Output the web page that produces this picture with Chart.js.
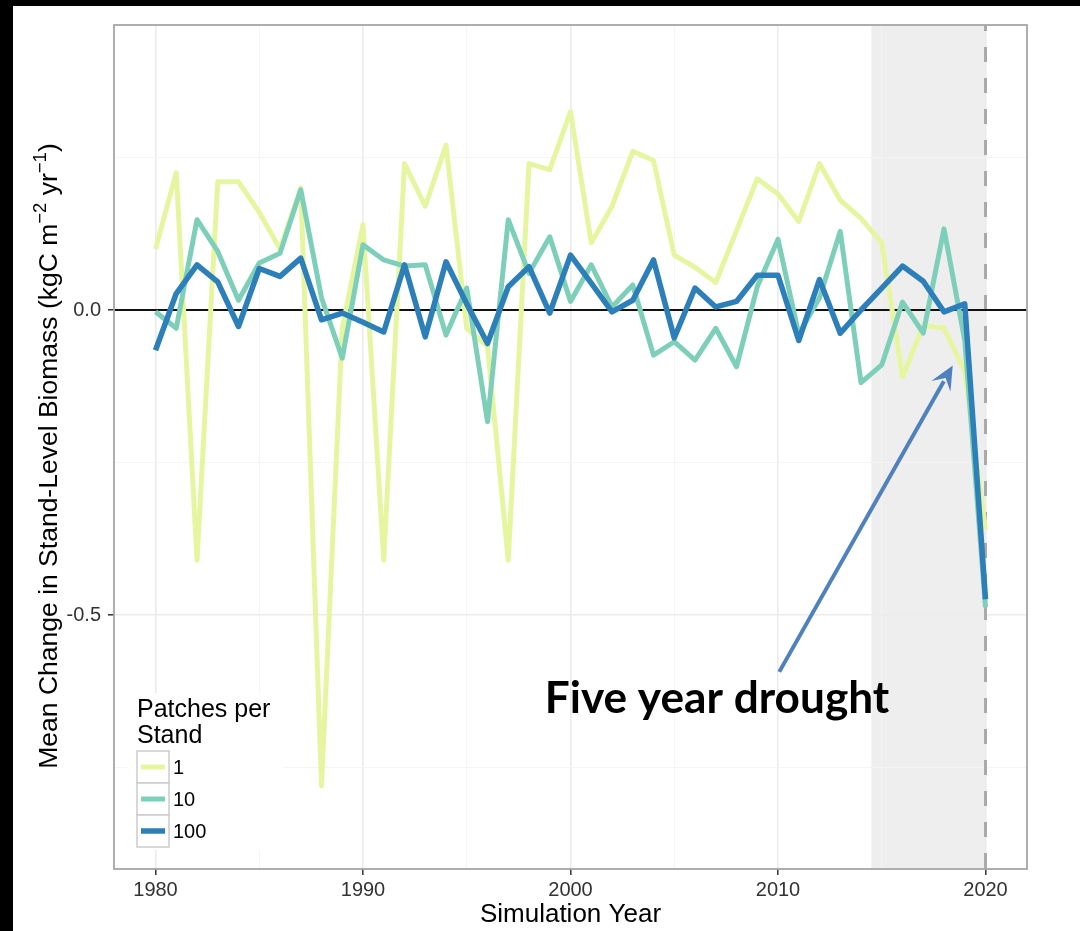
<!DOCTYPE html>
<html>
<head>
<meta charset="utf-8">
<title>Stand-level biomass change</title>
<style>
  html, body { margin: 0; padding: 0; background: #fff; }
  canvas { display: block; }
</style>
<script src="https://cdn.jsdelivr.net/npm/chart.js@4/dist/chart.umd.min.js"></script>
</head>
<body>
<canvas id="chart" width="1080" height="931"></canvas>
<script>
// Simulation years
const years = [1980, 1981, 1982, 1983, 1984, 1985, 1986, 1987, 1988, 1989,
               1990, 1991, 1992, 1993, 1994, 1995, 1996, 1997, 1998, 1999,
               2000, 2001, 2002, 2003, 2004, 2005, 2006, 2007, 2008, 2009,
               2010, 2011, 2012, 2013, 2014, 2015, 2016, 2017, 2018, 2019, 2020];

// Mean change in stand-level biomass (kgC m-2 yr-1), by patches per stand
const patches1 = [0.10, 0.225, -0.41, 0.21, 0.21, 0.16, 0.10, 0.20, -0.78, -0.03,
                  0.14, -0.41, 0.24, 0.17, 0.27, -0.03, -0.06, -0.41, 0.24, 0.23,
                  0.325, 0.11, 0.17, 0.26, 0.245, 0.09, 0.07, 0.045, 0.13, 0.215,
                  0.19, 0.145, 0.24, 0.18, 0.15, 0.11, -0.11, -0.025, -0.03, -0.10, -0.36];
const patches10 = [-0.003, -0.03, 0.148, 0.096, 0.016, 0.077, 0.093, 0.197, 0.02, -0.079,
                   0.107, 0.082, 0.072, 0.074, -0.041, 0.036, -0.183, 0.148, 0.06, 0.12,
                   0.014, 0.074, 0.005, 0.041, -0.074, -0.052, -0.082, -0.03, -0.093, 0.038,
                   0.116, -0.04, 0.02, 0.129, -0.119, -0.09, 0.013, -0.038, 0.133, -0.05, -0.487];
const patches100 = [-0.066, 0.027, 0.074, 0.046, -0.027, 0.068, 0.055, 0.085, -0.016, -0.005,
                    -0.02, -0.036, 0.074, -0.044, 0.079, 0.01, -0.055, 0.038, 0.071, -0.005,
                    0.09, 0.044, -0.003, 0.016, 0.082, -0.046, 0.036, 0.005, 0.014, 0.057,
                    0.057, -0.05, 0.05, -0.038, 0.0, 0.036, 0.072, 0.047, -0.003, 0.01, -0.474];

const seriesNames = ['1', '10', '100'];

// Axis breaks
const xLabelYears = [1980, 1990, 2000, 2010, 2020];
const xGridYears = [1980, 1985, 1990, 1995, 2000, 2005, 2010, 2015, 2020];
const yLabelValues = [-0.5, 0.0];
const yGridValues = [-0.75, -0.5, -0.25, 0.0, 0.25];

// Drought window and its annotation
const droughtStart = 2014.5;
const droughtEnd = 2020;
const droughtLabel = 'Five year drought';
const labelAt = [2007.06, -0.661];
const arrowFrom = [2010.06, -0.593];
const arrowTo = [2018.42, -0.091];

const FONT = '"Liberation Sans", Arial, Helvetica, sans-serif';
const COLORS = ['#e6f6a0', '#7dcfba', '#2c7fb8'];
const WIDTHS = [5, 5, 5.5];

const isMajorX = v => xLabelYears.includes(v);
const isMajorY = v => yLabelValues.includes(v);

const panelDecor = {
  id: 'panelDecor',
  beforeDraw(chart) {
    const { ctx, width, height, chartArea: a, scales: { x } } = chart;
    ctx.save();
    ctx.fillStyle = '#ffffff';
    ctx.fillRect(0, 0, width, height);
    ctx.fillStyle = '#000000';
    ctx.fillRect(0, 0, width, 6);
    ctx.fillRect(0, 0, 13, height);
    // shaded drought period
    const x0 = x.getPixelForValue(droughtStart);
    const x1 = x.getPixelForValue(droughtEnd);
    ctx.fillStyle = '#eeeeee';
    ctx.fillRect(x0, a.top, x1 - x0, a.bottom - a.top);
    ctx.restore();
  },
  beforeDatasetsDraw(chart) {
    const { ctx, chartArea: a, scales: { x, y } } = chart;
    ctx.save();
    // end of simulation marker
    const xe = x.getPixelForValue(droughtEnd);
    ctx.strokeStyle = '#aaaaaa';
    ctx.lineWidth = 3;
    ctx.setLineDash([15, 16]);
    ctx.lineDashOffset = 9;
    ctx.beginPath();
    ctx.moveTo(xe, a.top);
    ctx.lineTo(xe, a.bottom);
    ctx.stroke();
    ctx.setLineDash([]);
    // zero reference
    const y0 = y.getPixelForValue(0);
    ctx.strokeStyle = '#111111';
    ctx.lineWidth = 2;
    ctx.beginPath();
    ctx.moveTo(a.left, y0);
    ctx.lineTo(a.right, y0);
    ctx.stroke();
    ctx.restore();
  },
  afterDatasetsDraw(chart) {
    const { ctx, chartArea: a, scales: { x, y } } = chart;
    ctx.save();

    // panel border
    ctx.strokeStyle = '#a6a6a6';
    ctx.lineWidth = 1.8;
    ctx.strokeRect(a.left, a.top, a.right - a.left, a.bottom - a.top);

    // legend
    const lx = a.left + 23, ly = a.bottom - 176;
    ctx.fillStyle = '#ffffff';
    ctx.fillRect(lx - 10, ly, 156, 157);
    ctx.fillStyle = '#000000';
    ctx.font = `25px ${FONT}`;
    ctx.textAlign = 'left';
    ctx.textBaseline = 'alphabetic';
    ctx.fillText('Patches per', lx, ly + 24);
    ctx.fillText('Stand', lx, ly + 50);
    const keyTop = ly + 58, keySize = 32;
    chart.data.datasets.forEach((ds, i) => {
      const ky = keyTop + i * keySize;
      ctx.fillStyle = '#ffffff';
      ctx.fillRect(lx, ky, keySize, keySize);
      ctx.strokeStyle = '#cccccc';
      ctx.lineWidth = 1.5;
      ctx.strokeRect(lx, ky, keySize, keySize);
      ctx.strokeStyle = ds.borderColor;
      ctx.lineWidth = ds.borderWidth;
      ctx.beginPath();
      ctx.moveTo(lx + 4, ky + keySize / 2);
      ctx.lineTo(lx + keySize - 4, ky + keySize / 2);
      ctx.stroke();
      ctx.fillStyle = '#000000';
      ctx.font = `20px ${FONT}`;
      ctx.textBaseline = 'middle';
      ctx.fillText(ds.label, lx + keySize + 4, ky + keySize / 2 + 1);
    });

    // axis titles
    ctx.fillStyle = '#000000';
    ctx.textBaseline = 'alphabetic';
    ctx.textAlign = 'center';
    ctx.font = `26px ${FONT}`;
    ctx.fillText('Simulation Year', (a.left + a.right) / 2, 922);

    const parts = [
      ['Mean Change in Stand-Level Biomass (kgC m', false],
      ['\u22122', true],
      [' yr', false],
      ['\u22121', true],
      [')', false]
    ];
    const big = `26.5px ${FONT}`, small = `18.5px ${FONT}`;
    let total = 0;
    parts.forEach(([t, sup]) => { ctx.font = sup ? small : big; total += ctx.measureText(t).width; });
    ctx.translate(57, (a.top + a.bottom) / 2 + 9);
    ctx.rotate(-Math.PI / 2);
    ctx.textAlign = 'left';
    let cx = -total / 2;
    parts.forEach(([t, sup]) => {
      ctx.font = sup ? small : big;
      ctx.fillText(t, cx, sup ? -11.5 : 0);
      cx += ctx.measureText(t).width;
    });
    ctx.setTransform(1, 0, 0, 1, 0, 0);

    // drought annotation
    const px = v => x.getPixelForValue(v[0]);
    const py = v => y.getPixelForValue(v[1]);
    ctx.font = `bold 40px Lato, "Open Sans", sans-serif`;
    const w40 = ctx.measureText(droughtLabel).width;
    const fs = 40 * 345 / w40;
    ctx.font = `bold ${fs.toFixed(1)}px Lato, "Open Sans", sans-serif`;
    ctx.textAlign = 'center';
    ctx.fillStyle = '#000000';
    ctx.fillText(droughtLabel, px(labelAt), py(labelAt));

    const tx = px(arrowFrom), ty = py(arrowFrom);
    const hx = px(arrowTo), hy = py(arrowTo);
    const ang = Math.atan2(hy - ty, hx - tx);
    const headLen = 24, headHalf = 11;
    const bx = hx - Math.cos(ang) * headLen * 0.75;
    const by = hy - Math.sin(ang) * headLen * 0.75;
    ctx.strokeStyle = '#4f81bd';
    ctx.fillStyle = '#4f81bd';
    ctx.lineWidth = 4;
    ctx.lineCap = 'butt';
    ctx.beginPath();
    ctx.moveTo(tx, ty);
    ctx.lineTo(bx, by);
    ctx.stroke();
    const ux = Math.cos(ang), uy = Math.sin(ang);
    ctx.beginPath();
    ctx.moveTo(hx, hy);
    ctx.lineTo(hx - ux * headLen - uy * headHalf, hy - uy * headLen + ux * headHalf);
    ctx.lineTo(hx - ux * headLen * 0.6, hy - uy * headLen * 0.6);
    ctx.lineTo(hx - ux * headLen + uy * headHalf, hy - uy * headLen - ux * headHalf);
    ctx.closePath();
    ctx.fill();

    ctx.restore();
  }
};

const seriesValues = [patches1, patches10, patches100];
const datasets = seriesValues.map((vals, i) => ({
  label: seriesNames[i],
  data: years.map((yr, j) => ({ x: yr, y: vals[j] })),
  borderColor: COLORS[i],
  borderWidth: WIDTHS[i],
  borderJoinStyle: 'round',
  borderCapStyle: 'butt',
  pointRadius: 0,
  tension: 0,
  fill: false,
  order: 3 - i
}));

new Chart(document.getElementById('chart'), {
  type: 'line',
  data: { datasets },
  plugins: [panelDecor],
  options: {
    responsive: false,
    animation: false,
    events: [],
    devicePixelRatio: 1,
    layout: { padding: { top: 25, right: 53, bottom: 0, left: 0 } },
    plugins: { legend: { display: false }, tooltip: { enabled: false } },
    scales: {
      x: {
        type: 'linear',
        min: 1978,
        max: 2022,
        afterBuildTicks: s => { s.ticks = xGridYears.map(v => ({ value: v })); },
        afterFit: s => { s.height = 62; },
        border: { display: false },
        grid: {
          color: c => isMajorX(c.tick && c.tick.value) ? '#ebebeb' : '#f4f4f4',
          lineWidth: c => isMajorX(c.tick && c.tick.value) ? 1.6 : 0.9,
          tickLength: 6,
          tickWidth: 1.5,
          tickColor: c => isMajorX(c.tick && c.tick.value) ? '#333333' : 'rgba(0,0,0,0)'
        },
        ticks: {
          autoSkip: false,
          maxRotation: 0,
          padding: 3,
          color: '#333333',
          font: { family: FONT, size: 20 },
          callback: v => isMajorX(v) ? String(v) : ''
        }
      },
      y: {
        type: 'linear',
        min: -0.916,
        max: 0.467,
        afterBuildTicks: s => { s.ticks = yGridValues.map(v => ({ value: v })); },
        afterFit: s => { s.width = 114; },
        border: { display: false },
        grid: {
          color: c => isMajorY(c.tick && c.tick.value) ? '#ebebeb' : '#f4f4f4',
          lineWidth: c => isMajorY(c.tick && c.tick.value) ? 1.6 : 0.9,
          tickLength: 6,
          tickWidth: 1.5,
          tickColor: c => isMajorY(c.tick && c.tick.value) ? '#333333' : 'rgba(0,0,0,0)'
        },
        ticks: {
          autoSkip: false,
          padding: 7,
          color: '#333333',
          font: { family: FONT, size: 20 },
          callback: v => isMajorY(v) ? v.toFixed(1) : ''
        }
      }
    }
  }
});
</script>
</body>
</html>
